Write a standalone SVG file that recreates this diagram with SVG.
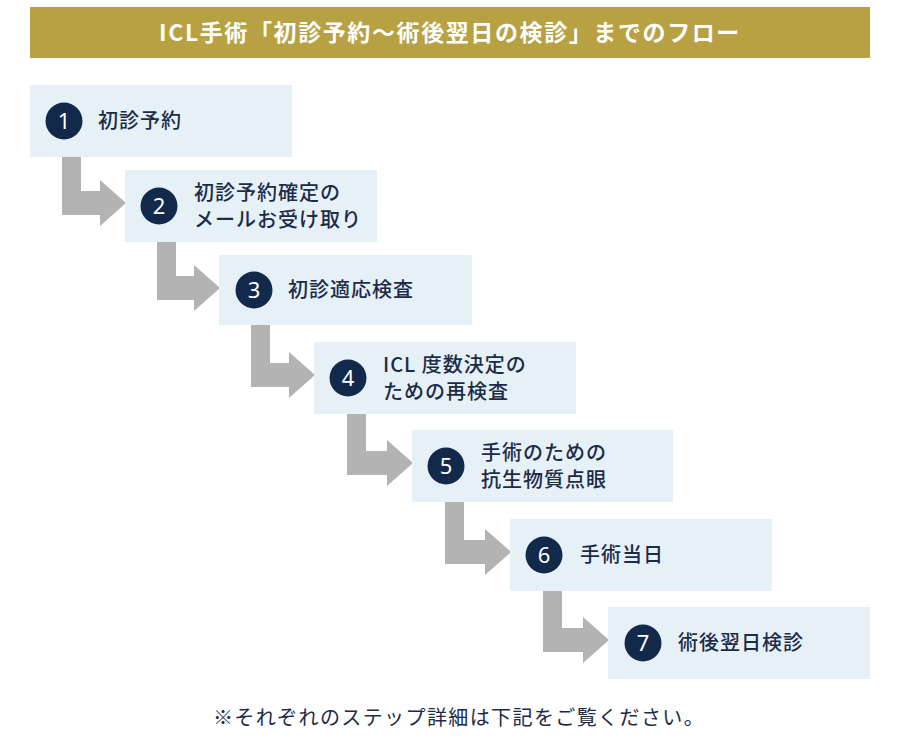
<svg xmlns="http://www.w3.org/2000/svg" width="900" height="750" viewBox="0 0 900 750">
<style>
.box{fill:#e6f1f7}
.arrow{fill:#b3b3b3}
.circ{fill:#13294b}
.num{fill:#ffffff;font-family:"Noto Sans","Noto Sans CJK JP",sans-serif;font-size:22px;font-weight:400;text-anchor:middle}
.lbl{fill:#1c2b47;font-family:"Noto Sans CJK JP","Noto Sans",sans-serif;font-size:20px;font-weight:500;letter-spacing:1px}
.title{fill:#ffffff;font-family:"Noto Sans CJK JP","Noto Sans",sans-serif;font-size:23px;font-weight:700;text-anchor:middle;letter-spacing:1.6px}
.note{fill:#1c2b47;font-family:"Noto Sans CJK JP",sans-serif;font-size:20px;font-weight:400;text-anchor:middle;letter-spacing:1.4px}
</style>
<rect width="900" height="750" fill="#ffffff"/>
<g id="header">
<rect x="30" y="7" width="840" height="51" fill="#b8a142"/>
<text class="title" x="450" y="41">ICL手術「初診予約〜術後翌日の検診」までのフロー</text>
</g>
<g id="connectors">
<path class="arrow" d="M62 157 H81 V191 H100 V180 L126 203 L100 226 V215 H62 Z"/>
<path class="arrow" d="M157 242 H176 V276 H194 V265 L220 288 L194 311 V300 H157 Z"/>
<path class="arrow" d="M251 325 H270 V363 H289 V352 L315 375 L289 398 V387 H251 Z"/>
<path class="arrow" d="M347 414 H366 V451 H387 V440 L413 463 L387 486 V475 H347 Z"/>
<path class="arrow" d="M445 502 H464 V540 H485 V529 L511 552 L485 575 V564 H445 Z"/>
<path class="arrow" d="M543 591 H562 V628 H583 V617 L609 640 L583 663 V652 H543 Z"/>
</g>
<g id="step1">
<rect class="box" x="30" y="85" width="262" height="72"/>
<circle class="circ" cx="64" cy="121" r="18.5"/>
<text class="num" x="64" y="129">1</text>
<text class="lbl" x="98" y="128">初診予約</text>
</g>
<g id="step2">
<rect class="box" x="125" y="170" width="252" height="72"/>
<circle class="circ" cx="159" cy="206" r="18.5"/>
<text class="num" x="159" y="214">2</text>
<text class="lbl" x="194" y="200">初診予約確定の</text>
<text class="lbl" x="194" y="227">メールお受け取り</text>
</g>
<g id="step3">
<rect class="box" x="219" y="255" width="253" height="70"/>
<circle class="circ" cx="254" cy="290" r="18.5"/>
<text class="num" x="254" y="298">3</text>
<text class="lbl" x="288" y="297">初診適応検査</text>
</g>
<g id="step4">
<rect class="box" x="314" y="342" width="262" height="72"/>
<circle class="circ" cx="348" cy="378" r="18.5"/>
<text class="num" x="348" y="386">4</text>
<text class="lbl" x="383" y="372">ICL 度数決定の</text>
<text class="lbl" x="383" y="399">ための再検査</text>
</g>
<g id="step5">
<rect class="box" x="412" y="430" width="261" height="72"/>
<circle class="circ" cx="446" cy="466" r="18.5"/>
<text class="num" x="446" y="474">5</text>
<text class="lbl" x="481" y="460">手術のための</text>
<text class="lbl" x="481" y="487">抗生物質点眼</text>
</g>
<g id="step6">
<rect class="box" x="510" y="519" width="262" height="72"/>
<circle class="circ" cx="544" cy="555" r="18.5"/>
<text class="num" x="544" y="563">6</text>
<text class="lbl" x="580" y="562">手術当日</text>
</g>
<g id="step7">
<rect class="box" x="608" y="607" width="262" height="72"/>
<circle class="circ" cx="643" cy="643" r="18.5"/>
<text class="num" x="643" y="651">7</text>
<text class="lbl" x="678" y="650">術後翌日検診</text>
</g>
<text class="note" x="459" y="725">※それぞれのステップ詳細は下記をご覧ください。</text>
</svg>
